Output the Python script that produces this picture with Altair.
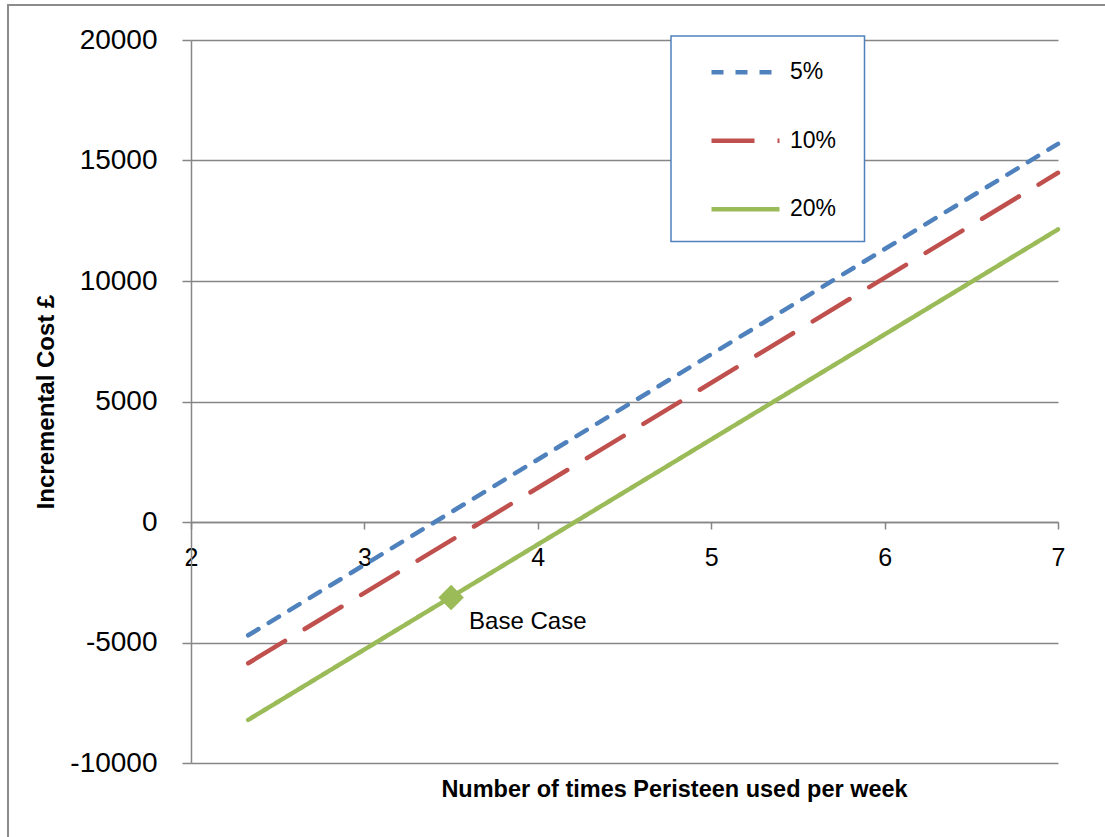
import altair as alt
import pandas as pd

# Series names, colours and dash patterns
series = ["5%", "10%", "20%"]
colors = ["#4F81BD", "#C0504D", "#9BBB59"]
dashes = [[12, 12], [43, 23], [1, 0]]

# Number of uses per week (line end points) and incremental cost in GBP
uses_per_week = [2.33, 7.0]
cost_5 = [-4700, 15690]
cost_10 = [-5860, 14490]
cost_20 = [-8210, 12140]

# Base case marker
base_x = [3.5]
base_y = [-3130]
base_label = ["Base Case"]

x_ticks = [2, 3, 4, 5, 6, 7]
y_ticks = [-10000, -5000, 0, 5000, 10000, 15000, 20000]
x_domain = [2, 7]
y_domain = [-10000, 20000]

W, H = 867, 723
FONT = "Liberation Sans"
GRID = "#868686"

rows = []
for name, costs in zip(series, [cost_5, cost_10, cost_20]):
    for u, c in zip(uses_per_week, costs):
        rows.append({"series": name, "uses": u, "cost": c})
lines_df = pd.DataFrame(rows)
base_df = pd.DataFrame({"uses": base_x, "cost": base_y, "label": base_label})
one = pd.DataFrame({"k": [0]})

# x axis sits on the zero line
zero_offset = -H * (0 - y_domain[0]) / (y_domain[1] - y_domain[0])

x_enc = alt.X(
    "uses:Q",
    scale=alt.Scale(domain=x_domain, nice=False, zero=False),
    axis=alt.Axis(
        values=x_ticks,
        offset=zero_offset,
        grid=False,
        domainColor=GRID,
        domainWidth=1.5,
        tickColor=GRID,
        tickWidth=1.5,
        tickSize=7,
        labelFont=FONT,
        labelFontSize=25,
        labelColor="#000000",
        labelPadding=16,
        labelFlush=False,
        labelExpr="'' + datum.value",
        title="Number of times Peristeen used per week",
        titleFont=FONT,
        titleFontSize=23.5,
        titleFontWeight="bold",
        titleColor="#000000",
        titleX=483,
        titleY=274,
        titleAlign="center",
        titleBaseline="alphabetic",
    ),
)
y_enc = alt.Y(
    "cost:Q",
    scale=alt.Scale(domain=y_domain, nice=False),
    axis=alt.Axis(
        values=y_ticks,
        grid=True,
        gridColor=GRID,
        gridWidth=1.3,
        domainColor=GRID,
        domainWidth=1.5,
        tickColor=GRID,
        tickWidth=1.5,
        tickSize=9,
        labelFont=FONT,
        labelFontSize=28,
        labelColor="#000000",
        labelPadding=25,
        labelExpr="'' + datum.value",
        title="Incremental Cost £",
        titleFont=FONT,
        titleFontSize=24,
        titleFontWeight="bold",
        titleColor="#000000",
        titleX=-144.5,
        titleY=H / 2,
        titleAngle=-90,
        titleAlign="center",
        titleBaseline="middle",
    ),
)

frame = alt.Chart(one).mark_rect(fillOpacity=0, stroke="#8C8C8C", strokeWidth=2).encode(
    x=alt.value(-183), x2=alt.value(W + 80), y=alt.value(-35), y2=alt.value(H + 100)
)

legend_box = alt.Chart(one).mark_rect(fill="#FFFFFF", stroke="#4F81BD", strokeWidth=1.5).encode(
    x=alt.value(480), x2=alt.value(673.5), y=alt.value(-4), y2=alt.value(201.5)
)

lines = alt.Chart(lines_df).mark_line(strokeWidth=4.5, strokeCap="round").encode(
    x=x_enc,
    y=y_enc,
    color=alt.Color("series:N", title=None,
                    scale=alt.Scale(domain=series, range=colors)),
    strokeDash=alt.StrokeDash("series:N", title=None,
                              scale=alt.Scale(domain=series, range=dashes)),
    order=alt.Order("uses:Q"),
)

marker = alt.Chart(base_df).mark_point(
    shape="diamond", filled=True, size=650, color="#9BBB59", opacity=1
).encode(x="uses:Q", y="cost:Q")

marker_text = alt.Chart(base_df).mark_text(
    align="left", baseline="middle", dx=18, dy=25, font=FONT, fontSize=24, color="#000000"
).encode(x="uses:Q", y="cost:Q", text="label:N")

chart = (
    alt.layer(frame, legend_box, lines, marker, marker_text)
    .properties(
        width=W,
        height=H,
        autosize=alt.AutoSizeParams(type="none"),
        padding={"left": 191, "top": 40, "right": 47, "bottom": 74},
        background="#FFFFFF",
    )
    .configure_view(strokeWidth=0)
    .configure_legend(
        orient="none",
        legendX=518,
        legendY=-4.3,
        padding=0,
        symbolType="stroke",
        symbolSize=68 * 68,
        symbolStrokeWidth=4.5,
        labelFont=FONT,
        labelFontSize=23,
        labelColor="#000000",
        labelOffset=8,
        rowPadding=19.5,
    )
)

chart.save("out.html", embed_options={"renderer": "svg", "actions": False})
